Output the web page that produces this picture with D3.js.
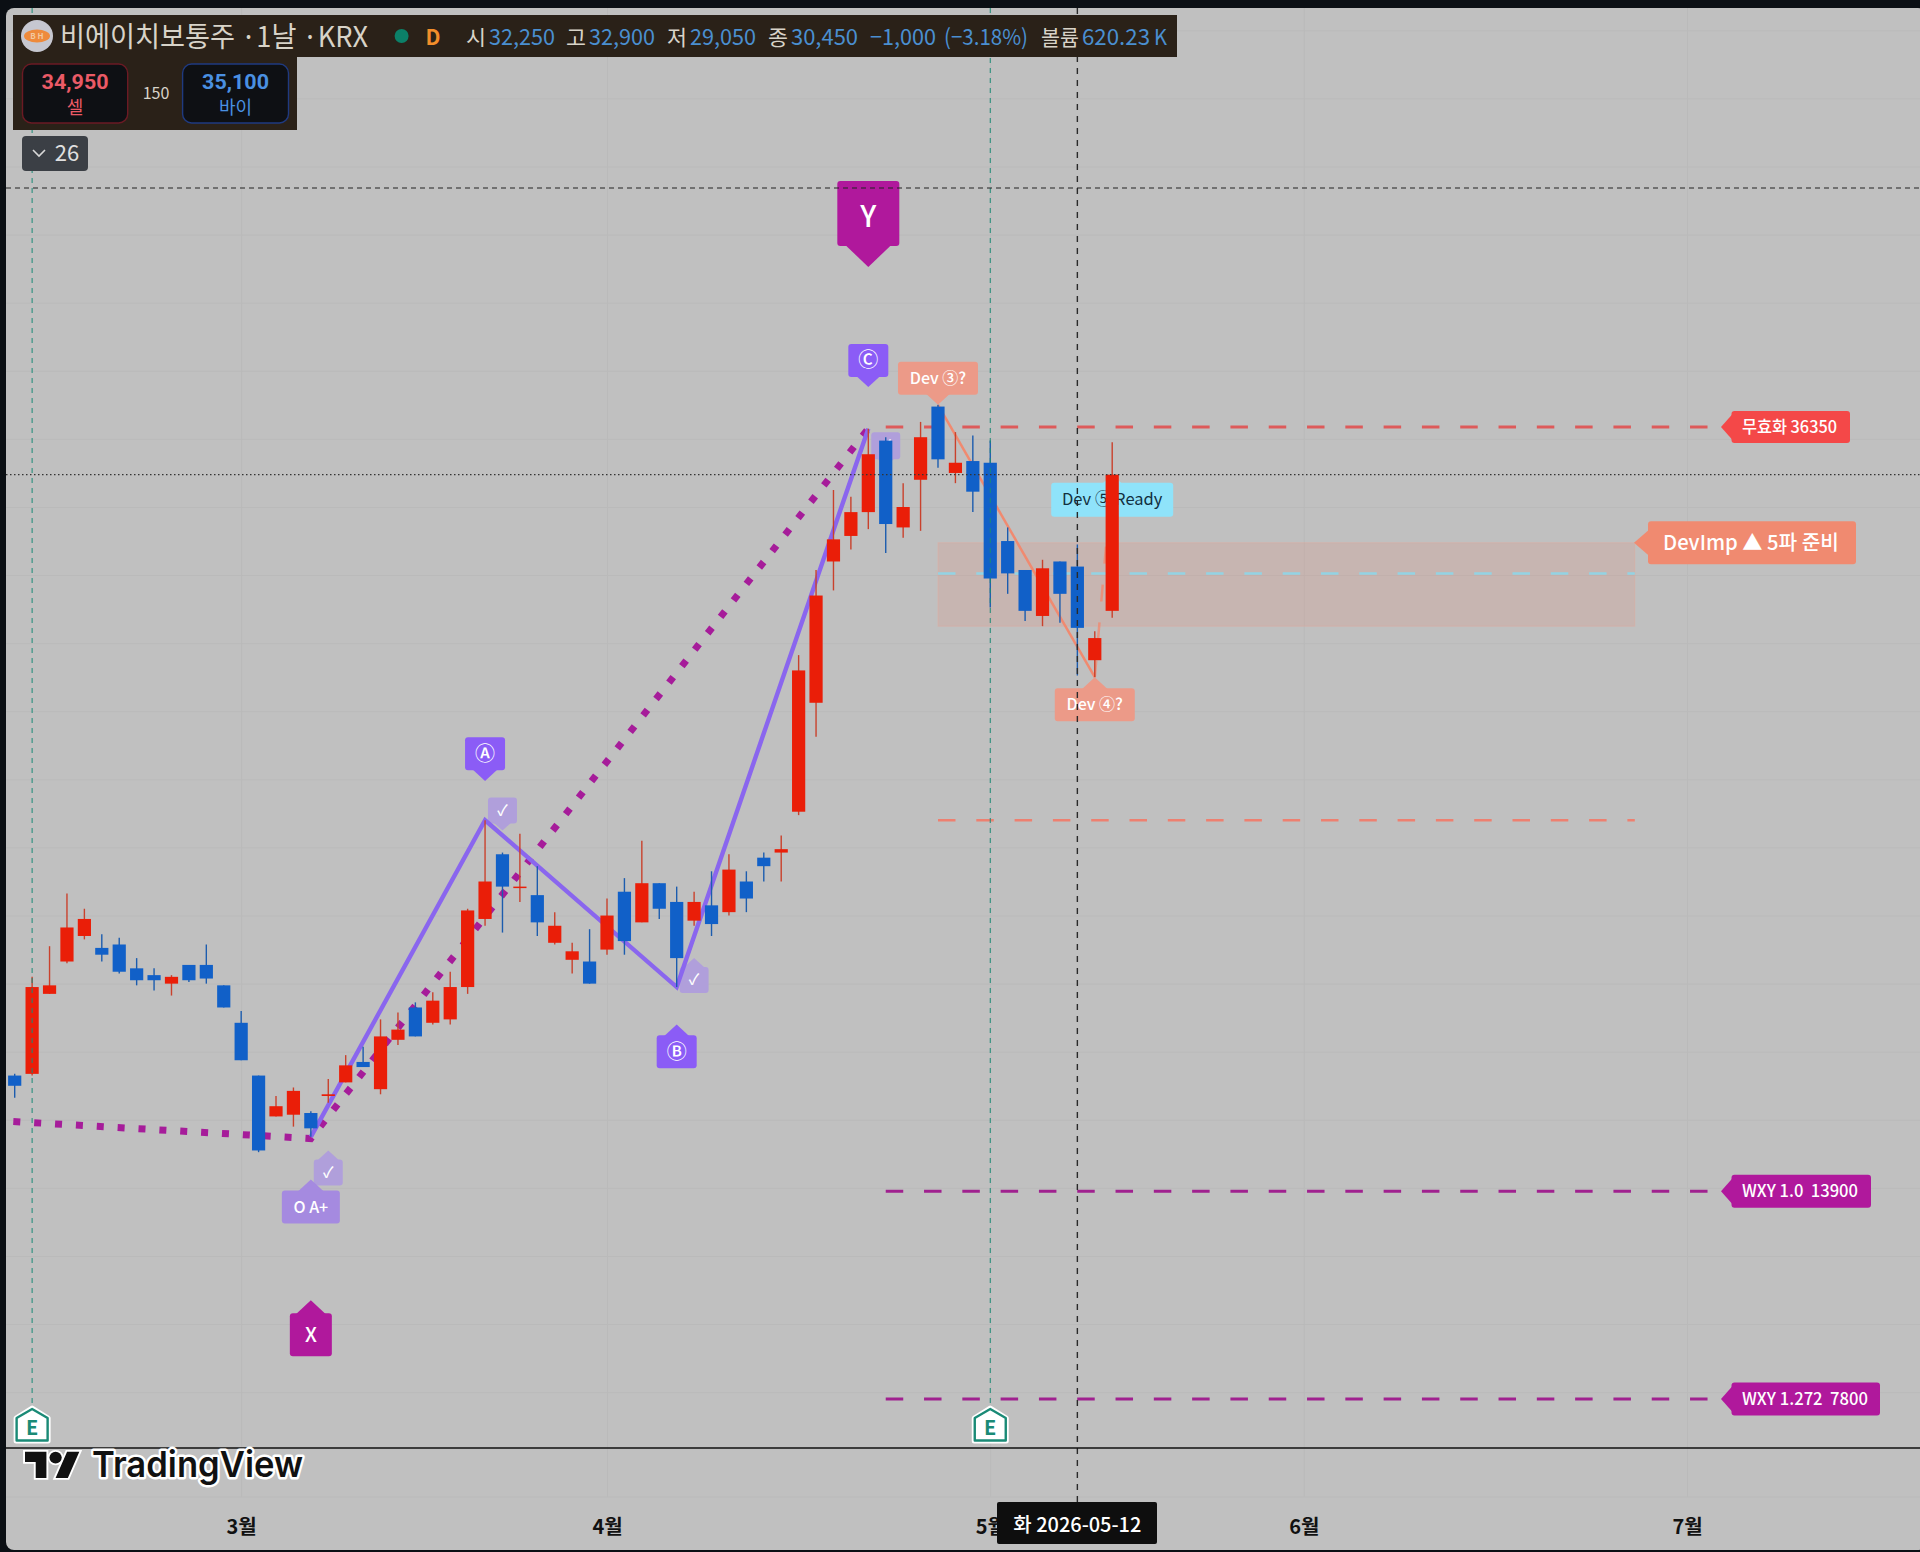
<!DOCTYPE html>
<html>
<head>
<meta charset="utf-8">
<script src="https://cdn.jsdelivr.net/npm/d3@7"></script>
<style>
  html, body { margin: 0; padding: 0; background: #0b0f14; }
  svg { display: block; }
  text { font-family: "Noto Sans CJK KR", "Noto Sans", sans-serif; white-space: pre; }
</style>
</head>
<body>
<svg id="chart" width="1920" height="1552"></svg>
<script>
// daily bars, index 0 .. 63 (KRW)
const opens = [17300,17350,19700,20650,21400,21050,21150,20450,20250,20000,20550,20550,19950,18850,17300,16100,
  16150,16200,16700,17100,17700,16900,18350,19300,18850,18950,19900,21900,23800,22850,22600,21200,
  20700,20650,21000,22700,21800,22950,22400,21850,22300,22100,23000,23700,23850,25050,28250,32400,
  33150,33850,35950,33400,34800,36950,35000,35350,35300,33000,32150,30800,32400,32250,29500,30950];
const highs = [17350,20200,21100,22650,22200,21450,21350,20750,20450,20250,20550,21150,19950,19200,17300,16700,
  16950,16250,17200,17900,18150,18950,19150,19450,19750,20350,22200,24800,23850,24400,23450,22100,
  21200,21600,22500,23100,24200,22950,22850,22700,23300,23800,23300,23850,24350,29650,32150,34500,
  34300,36300,36050,34700,36500,37000,36200,36100,35950,33400,32150,32450,32400,32900,30350,35900];
const lows = [16650,17300,19700,20600,21300,20650,20300,19950,19800,19650,20050,20000,19300,17750,15050,16100,
  15800,15500,16500,17100,17550,16750,18200,18450,18800,18800,19700,21700,21500,22400,21400,21150,
  20300,20000,20850,20850,21800,21900,19900,21700,21400,22000,22100,23000,23000,24950,27250,31550,
  32750,33350,32650,33100,33300,35150,34700,33850,31050,31450,30650,30500,30600,29050,29000,30750];
const closes = [17000,19900,19950,21650,21900,20850,20350,20100,20100,20200,20100,20150,19300,17750,15100,16400,
  16850,15750,16750,17600,17550,18450,18650,18450,19500,19900,22150,23000,22850,22850,21800,21700,
  20950,20000,22000,21250,22950,22200,20750,22400,21750,23350,22500,23450,23950,29200,31400,33050,
  33850,35550,33500,34000,36050,35400,35300,34450,31900,32050,30950,32200,31450,30450,30150,34950];

const monthIdx = [13, 34, 56, 74, 96];
const monthLabels = ["3월", "4월", "5월", "6월", "7월"];
const gridPrices = d3.range(8000, 48001, 2000);

const zigIdx = [17, 27, 38, 49];
const zigPrice = [15500, 24800, 19900, 36300];
const wxyIdx = [-0.08, 17, 49];
const wxyPrice = [15950, 15450, 36300];
const devIdx = [53, 62];
const devPrice = [37000, 29000];
const devNextIdx = [62, 63];
const devNextPrice = [29000, 34950];

const levelPrices = [36350, 13900, 7800];
const levelLabels = ["무효화 36350", "WXY 1.0  13900", "WXY 1.272  7800"];
const zoneTop = 32950, zoneBottom = 30500, zoneMid = 32050, zoneLow = 24800;
const earningsIdx = [1, 56];
const crossIdx = 61;
const lastClose = 34950;

const svg = d3.select("#chart");
const W = 1920;
const paneTop = 8, paneBottom = 1448;

const x = d3.scaleLinear().domain([0, 63]).range([14.7, 1112.2]);
const y = d3.scaleLinear().domain([7800, 36350]).range([1399, 427]);

const lineGen = d3.line().x(d => x(d[0])).y(d => y(d[1]));
const zipLine = (a, b) => a.map((v, i) => [v, b[i]]);

// panel
svg.append("rect").attr("x", 6).attr("y", paneTop).attr("width", W).attr("height", 1542)
  .attr("rx", 8).attr("fill", "#c0c0c0");

// grid
const gridColor = "#bababa";
const gridY = svg.append("g").attr("transform", "translate(6,0)")
  .call(d3.axisLeft(y).tickValues(gridPrices).tickSize(-W).tickFormat(""));
gridY.select(".domain").remove();
gridY.selectAll("line").attr("stroke", gridColor).attr("stroke-width", 1);

const gridX = svg.append("g").attr("transform", "translate(0,1497)")
  .call(d3.axisTop(x).tickValues(monthIdx).tickSize(1497 - paneTop).tickFormat(""));
gridX.select(".domain").remove();
gridX.selectAll("line").attr("stroke", gridColor).attr("stroke-width", 1);
svg.append("line").attr("x1", 6).attr("x2", W).attr("y1", 1497).attr("y2", 1497).attr("stroke", gridColor);

// zone and levels
svg.append("rect").attr("x", x(53)).attr("width", x(93) - x(53))
  .attr("y", y(zoneTop)).attr("height", y(zoneBottom) - y(zoneTop))
  .attr("fill", "#f0806a").attr("fill-opacity", 0.17).attr("stroke", "#e8a898").attr("stroke-opacity", 0.4);

function level(price, i0, i1, color, width) {
  svg.append("line").attr("x1", x(i0)).attr("x2", x(i1)).attr("y1", y(price)).attr("y2", y(price))
    .attr("stroke", color).attr("stroke-width", width).attr("stroke-dasharray", "17.5 20.8");
}
level(levelPrices[0], 50, 97.2, "#dd5a5a", 3);
level(levelPrices[1], 50, 97.2, "#a0218f", 3);
level(levelPrices[2], 50, 97.2, "#a0218f", 3);
level(zoneMid, 53, 93, "#93d3e4", 2.5);
level(zoneLow, 53, 93, "#ee8070", 2.5);

// labels under the candles
function flag(o) {
  const tx = x(o.i), ty = y(o.price), s = o.dir === "down" ? -1 : 1;
  const near = ty + s * o.depth, far = near + s * o.h;
  const g = svg.append("g");
  g.append("rect").attr("x", tx - o.w / 2).attr("width", o.w)
    .attr("y", Math.min(near, far)).attr("height", o.h).attr("rx", 3).attr("fill", o.fill);
  g.append("path").attr("fill", o.fill)
    .attr("d", `M${tx - o.depth - 2},${near + s}L${tx},${ty}L${tx + o.depth + 2},${near + s}Z`);
  g.append("text").attr("x", tx).attr("y", (near + far) / 2).attr("dy", o.dy || "0.35em")
    .attr("text-anchor", "middle").attr("fill", o.color || "#fff")
    .attr("font-size", o.size).attr("font-weight", o.weight || 500).text(o.text);
}

svg.append("path").attr("d", lineGen(zipLine(devIdx, devPrice)))
  .attr("fill", "none").attr("stroke", "#f08a70").attr("stroke-width", 2.5);
svg.append("path").attr("d", lineGen(zipLine(devNextIdx, devNextPrice)))
  .attr("fill", "none").attr("stroke", "#f08a70").attr("stroke-width", 2.5)
  .attr("stroke-dasharray", "17 21").attr("stroke-opacity", 0.8);

const violet = "#8b5cf6", pale = "#b09fdb", magenta = "#b0189c", salmon = "#ec9a88";
flag({ i: 28, price: 24500, dir: "down", depth: 7, h: 26, w: 29, fill: pale, text: "✓", size: 15 });
flag({ i: 50, price: 35200, dir: "down", depth: 7, h: 27, w: 29, fill: pale, text: "✓", size: 15 });
flag({ i: 39, price: 20750, dir: "up", depth: 9, h: 26, w: 29, fill: pale, text: "✓", size: 15 });
flag({ i: 18, price: 15100, dir: "up", depth: 9, h: 26, w: 29, fill: pale, text: "✓", size: 15 });
flag({ i: 63, price: 34950, dir: "up", depth: 8, h: 34, w: 122, fill: "#8fe3fa", color: "#12303f", text: "Dev ⑤ Ready", size: 16.5, weight: 400, dy: "0.3em" });

// wave lines
svg.append("path").attr("d", lineGen(zipLine(wxyIdx, wxyPrice)))
  .attr("fill", "none").attr("stroke", "#a61c9a").attr("stroke-width", 7).attr("stroke-dasharray", "7 13.9");
svg.append("path").attr("d", lineGen(zipLine(zigIdx, zigPrice)))
  .attr("fill", "none").attr("stroke", "#8a66ee").attr("stroke-width", 4.4).attr("stroke-linejoin", "miter");

// candles
const bars = svg.append("g").selectAll("g").data(d3.range(opens.length)).enter().append("g");
const barColor = i => closes[i] >= opens[i] ? "#ea1e08" : "#1160c8";
bars.append("line")
  .attr("x1", i => x(i)).attr("x2", i => x(i))
  .attr("y1", i => y(highs[i])).attr("y2", i => y(lows[i]))
  .attr("stroke", i => closes[i] >= opens[i] ? "#c9412c" : "#1c5cae").attr("stroke-width", 1.4);
bars.append("rect")
  .attr("x", i => x(i) - 6.6).attr("width", 13.2)
  .attr("y", i => y(Math.max(opens[i], closes[i])))
  .attr("height", i => Math.max(1.5, Math.abs(y(opens[i]) - y(closes[i]))))
  .attr("fill", barColor);

// labels over the candles
flag({ i: 49, price: 41050, dir: "down", depth: 21, h: 65, w: 62, fill: magenta, text: "Y", size: 29, dy: "0.45em" });
flag({ i: 49, price: 37525, dir: "down", depth: 10, h: 33, w: 40, fill: violet, text: "Ⓒ", size: 20 });
flag({ i: 53, price: 37000, dir: "down", depth: 10, h: 33, w: 80, fill: salmon, text: "Dev ③?", size: 16 });
flag({ i: 27, price: 25950, dir: "down", depth: 10.7, h: 33, w: 40, fill: violet, text: "Ⓐ", size: 20 });
flag({ i: 38, price: 18800, dir: "up", depth: 10.7, h: 33, w: 40, fill: violet, text: "Ⓑ", size: 20 });
flag({ i: 17, price: 14250, dir: "up", depth: 11, h: 33, w: 58, fill: "#a58ae0", text: "O A+", size: 16 });
flag({ i: 17, price: 10700, dir: "up", depth: 13, h: 43, w: 42, fill: magenta, text: "X", size: 20 });
flag({ i: 62, price: 29000, dir: "up", depth: 11, h: 33, w: 80, fill: salmon, text: "Dev ④?", size: 16 });

// price tags on the right
function tag(price, x0, x1, h, tipGap, fill, text, size, tx0, tx1) {
  const c = y(price), g = svg.append("g");
  g.append("rect").attr("x", x0).attr("y", c - h / 2).attr("width", x1 - x0).attr("height", h).attr("rx", 3).attr("fill", fill);
  g.append("path").attr("fill", fill).attr("d", `M${x0 + 1},${c - 13}L${x0 - tipGap},${c}L${x0 + 1},${c + 13}Z`);
  g.append("text").attr("x", tx0).attr("y", c).attr("dy", "0.35em")
    .attr("textLength", tx1 - tx0).attr("lengthAdjust", "spacingAndGlyphs")
    .attr("fill", "#fff").attr("font-size", size).attr("font-weight", 500).text(text);
}
tag(levelPrices[0], 1731.5, 1850, 32, 10.5, "#f44848", levelLabels[0], 17, 1742, 1837);
tag(levelPrices[1], 1731.5, 1871, 33, 10.5, magenta, levelLabels[1], 17, 1742, 1858);
tag(levelPrices[2], 1731.5, 1880, 33, 10.5, magenta, levelLabels[2], 17, 1742, 1868);
tag(zoneTop, 1648, 1856, 43, 14, "#f08a70", "DevImp ▲ 5파 준비", 20.5, 1663, 1839);

// earnings markers
earningsIdx.forEach(i => {
  const cx = x(i);
  svg.append("line").attr("x1", cx).attr("x2", cx).attr("y1", paneTop).attr("y2", 1406)
    .attr("stroke", "#1a8a76").attr("stroke-width", 1).attr("stroke-dasharray", "5 5");
  svg.append("path").attr("d", `M${cx},1408L${cx + 16},1418V1441H${cx - 16}V1418Z`)
    .attr("fill", "#fff").attr("stroke", "#fff").attr("stroke-width", 5).attr("stroke-linejoin", "round");
  svg.append("path").attr("d", `M${cx},1409L${cx + 15.5},1418V1440.5H${cx - 15.5}V1418Z`)
    .attr("fill", "#fff").attr("stroke", "#1a8a76").attr("stroke-width", 2.4).attr("stroke-linejoin", "round");
  svg.append("text").attr("x", cx).attr("y", 1435).attr("text-anchor", "middle")
    .attr("fill", "#1a8a76").attr("font-size", 20).attr("font-weight", 700).text("E");
});

// crosshair, last price
svg.append("line").attr("x1", x(crossIdx)).attr("x2", x(crossIdx)).attr("y1", paneTop).attr("y2", 1503)
  .attr("stroke", "#2a2a2a").attr("stroke-width", 1.4).attr("stroke-dasharray", "6 6");
svg.append("line").attr("x1", 6).attr("x2", W).attr("y1", 188).attr("y2", 188)
  .attr("stroke", "#222").attr("stroke-width", 1.2).attr("stroke-dasharray", "5 4");
svg.append("line").attr("x1", 6).attr("x2", W).attr("y1", y(lastClose)).attr("y2", y(lastClose))
  .attr("stroke", "#333").attr("stroke-width", 1.2).attr("stroke-dasharray", "1.5 2.5");

// time axis
svg.append("line").attr("x1", 6).attr("x2", W).attr("y1", paneBottom).attr("y2", paneBottom)
  .attr("stroke", "#111").attr("stroke-width", 1.6);
const xAxis = svg.append("g").attr("transform", "translate(0,1520)")
  .call(d3.axisBottom(x).tickValues(monthIdx).tickSize(0).tickPadding(0).tickFormat((d, i) => monthLabels[i]));
xAxis.select(".domain").remove();
xAxis.selectAll("text").attr("fill", "#111").attr("font-size", 20).attr("font-weight", 700)
  .style("font-family", '"Noto Sans CJK KR", sans-serif');

svg.append("rect").attr("x", 997).attr("y", 1502).attr("width", 160).attr("height", 42).attr("rx", 2).attr("fill", "#0e0e0e");
svg.append("text").attr("x", x(crossIdx)).attr("y", 1525).attr("dy", "0.35em").attr("text-anchor", "middle")
  .attr("textLength", 128).attr("lengthAdjust", "spacingAndGlyphs")
  .attr("fill", "#fff").attr("font-size", 20).attr("font-weight", 500).text("화 2026-05-12");

// TradingView mark
const tv = svg.append("g").attr("transform", "translate(25,1446) scale(1.53,1.45)");
tv.append("path").attr("d", "M14 22H7V11H0V4h14v18zM28 22h-8l7.5-18h8L28 22z")
  .attr("fill", "#111").attr("stroke", "#fff").attr("stroke-width", 2.5).attr("paint-order", "stroke");
tv.append("circle").attr("cx", 20).attr("cy", 8).attr("r", 4)
  .attr("fill", "#111").attr("stroke", "#fff").attr("stroke-width", 2.5).attr("paint-order", "stroke");
svg.append("text").attr("x", 92).attr("y", 1477).attr("textLength", 211).attr("lengthAdjust", "spacingAndGlyphs")
  .attr("fill", "#111").attr("stroke", "#fff").attr("stroke-width", 5).attr("paint-order", "stroke")
  .attr("stroke-linejoin", "round").attr("font-size", 36).attr("font-weight", 600)
  .style("font-family", "Inter, sans-serif").text("TradingView");

// legend header
const headerBg = "#2a2118";
svg.append("rect").attr("x", 13).attr("y", 15).attr("width", 1164).attr("height", 42).attr("fill", headerBg);
svg.append("rect").attr("x", 13).attr("y", 57).attr("width", 284).attr("height", 73).attr("fill", headerBg);
svg.append("circle").attr("cx", 37).attr("cy", 36).attr("r", 16).attr("fill", "#c6c7d0");
svg.append("ellipse").attr("cx", 37).attr("cy", 36).attr("rx", 13).attr("ry", 6.5).attr("fill", "#ee8a3c");
svg.append("text").attr("x", 37).attr("y", 36).attr("dy", "0.35em").attr("text-anchor", "middle")
  .attr("fill", "#f3c9a0").attr("font-size", 8).attr("font-weight", 700).text("B H");

function headText(x0, x1, str, fill, size) {
  svg.append("text").attr("x", x0).attr("y", 37).attr("dy", "0.36em")
    .attr("textLength", x1 - x0).attr("lengthAdjust", "spacingAndGlyphs")
    .attr("fill", fill).attr("font-size", size).text(str);
}
const cream = "#d8d3c8", blueText = "#4a8fd0";
headText(60, 368, "비에이치보통주 ·1날 ·KRX", cream, 28);
svg.append("circle").attr("cx", 401.6).attr("cy", 36).attr("r", 7).attr("fill", "#0c8068");
svg.append("text").attr("x", 433).attr("y", 37).attr("dy", "0.36em").attr("text-anchor", "middle")
  .attr("fill", "#f28e2b").attr("font-size", 21).attr("font-weight", 700).text("D");

const headLabels = ["시", "고", "저", "종", "볼륨"];
const headLabelX = [[466, 486], [566, 586], [667, 687], [768, 788], [1041, 1079]];
const headValues = ["32,250", "32,900", "29,050", "30,450", "−1,000", "(−3.18%)", "620.23", "K"];
const headValueX = [[489, 555], [589, 655], [690, 756], [791, 858], [870, 936], [944, 1028], [1082, 1150], [1154, 1167]];
headLabels.forEach((t, i) => headText(headLabelX[i][0], headLabelX[i][1], t, cream, 21));
headValues.forEach((t, i) => headText(headValueX[i][0], headValueX[i][1], t, blueText, 22));

function quote(x0, x1, stroke, fill, price, label) {
  const cx = (x0 + x1) / 2;
  svg.append("rect").attr("x", x0).attr("y", 64).attr("width", x1 - x0).attr("height", 59).attr("rx", 9)
    .attr("fill", "#0e1014").attr("stroke", stroke).attr("stroke-width", 1.4);
  svg.append("text").attr("x", cx - 33.5).attr("y", 81.5).attr("dy", "0.36em")
    .attr("textLength", 67).attr("lengthAdjust", "spacingAndGlyphs")
    .attr("fill", fill).attr("font-size", 20).attr("font-weight", 700)
    .style("font-family", "Roboto, sans-serif").text(price);
  svg.append("text").attr("x", cx).attr("y", 108).attr("dy", "0.36em").attr("text-anchor", "middle")
    .attr("fill", fill).attr("font-size", 18).text(label);
}
quote(22.5, 127.7, "#6b1a24", "#ea5a66", "34,950", "셀");
quote(182.6, 288.5, "#1f3a80", "#4a90e2", "35,100", "바이");
svg.append("text").attr("x", 156).attr("y", 93).attr("dy", "0.36em").attr("text-anchor", "middle")
  .attr("fill", cream).attr("font-size", 16).text("150");

svg.append("rect").attr("x", 22).attr("y", 136).attr("width", 66).attr("height", 35).attr("rx", 4).attr("fill", "#3b3f45");
svg.append("path").attr("d", "M33,150l6,6l6,-6").attr("fill", "none").attr("stroke", "#d8d8d8").attr("stroke-width", 1.6);
svg.append("text").attr("x", 67).attr("y", 153).attr("dy", "0.36em").attr("text-anchor", "middle")
  .attr("fill", "#e0e0e0").attr("font-size", 22).text("26");
</script>
</body>
</html>
